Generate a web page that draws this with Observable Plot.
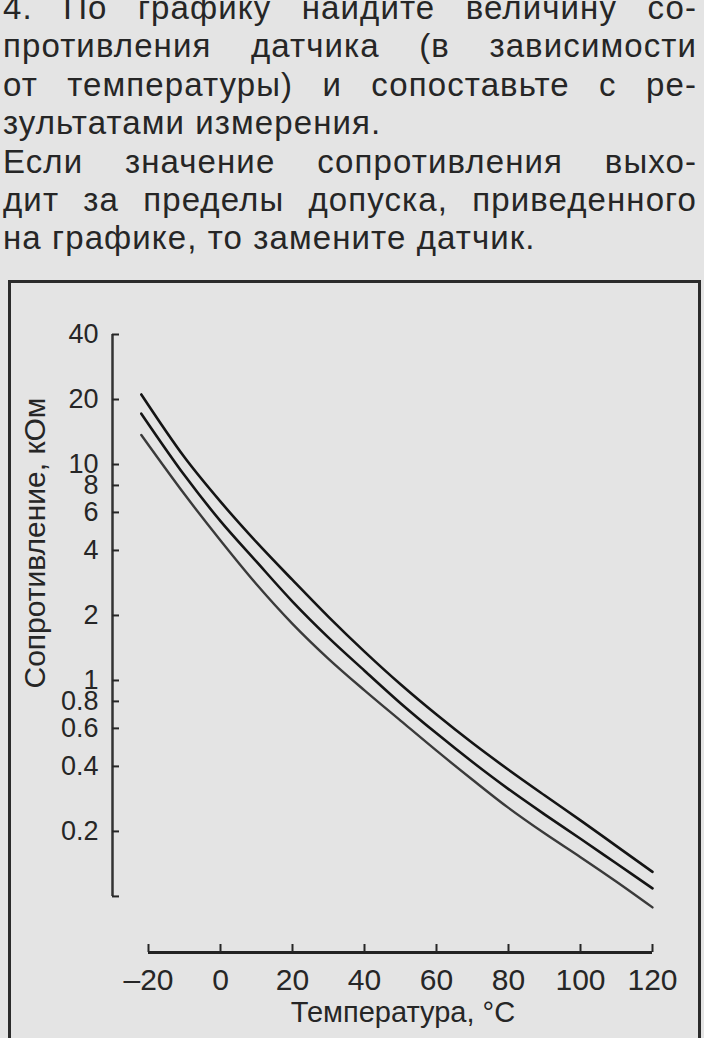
<!DOCTYPE html>
<html>
<head>
<meta charset="utf-8">
<script src="https://cdn.jsdelivr.net/npm/d3@7"></script>
<script src="https://cdn.jsdelivr.net/npm/@observablehq/plot@0.6"></script>
<style>
  body {
    margin: 0;
    width: 704px;
    height: 1038px;
    overflow: hidden;
    position: relative;
    background: #e4e4e4;
    color: #262626;
    font-family: "Liberation Sans", Arial, sans-serif;
  }
  #text {
    position: absolute;
    left: 3px;
    top: -11px;
    width: 694px;
    font-size: 33px;
    line-height: 38.4px;
    letter-spacing: 1.1px;
  }
  #text div { text-align: justify; text-align-last: justify; }
  #text div.last { text-align-last: left; }
  #box {
    position: absolute;
    left: 8px;
    top: 280px;
    width: 687px;
    height: 800px;
    border: 3px solid #2b2b2b;
    border-bottom: none;
  }
  #chart { position: absolute; left: 0; top: 281px; }
  #ylabel {
    position: absolute;
    left: 35px;
    top: 543px;
    transform: translate(-50%, -50%) rotate(-90deg);
    white-space: nowrap;
    font-size: 30px;
  }
  #xlabel {
    position: absolute;
    left: 403px;
    top: 1012px;
    transform: translate(-50%, -50%);
    white-space: nowrap;
    font-size: 29px;
  }
</style>
</head>
<body>
<div id="text">
  <div>4. По графику найдите величину со-</div>
  <div>противления датчика (в зависимости</div>
  <div>от температуры) и сопоставьте с ре-</div>
  <div class="last">зультатами измерения.</div>
  <div>Если значение сопротивления выхо-</div>
  <div>дит за пределы допуска, приведенного</div>
  <div class="last">на графике, то замените датчик.</div>
</div>
<div id="box"></div>
<div id="chart"></div>
<div id="ylabel">Сопротивление, кОм</div>
<div id="xlabel">Температура, °С</div>
<script>
// температура, °C
const temps = [-22, -10, 0, 10, 20, 30, 40, 50, 60, 70, 80, 90, 100, 110, 120];
// сопротивление датчика, кОм: верхний допуск, номинал, нижний допуск
const upper = [21.1, 10.8, 6.73, 4.37, 2.92, 1.97, 1.36, 0.96, 0.695, 0.513, 0.386, 0.294, 0.225, 0.171, 0.130];
const nominal = [17.2, 8.91, 5.47, 3.55, 2.32, 1.58, 1.11, 0.785, 0.569, 0.419, 0.314, 0.240, 0.185, 0.142, 0.109];
const lower = [13.7, 7.28, 4.45, 2.79, 1.83, 1.26, 0.90, 0.652, 0.473, 0.347, 0.257, 0.196, 0.152, 0.117, 0.089];

const xTicks = [-20, 0, 20, 40, 60, 80, 100, 120];
const yTicks = [0.1, 0.2, 0.4, 0.6, 0.8, 1, 2, 4, 6, 8, 10, 20, 40];
const yLabels = yTicks.filter((d) => d !== 0.1);

const rows = (vals) => temps.map((t, i) => ({t, r: vals[i]}));

let chart = Plot.plot({
  width: 704,
  height: 757,
  marginTop: 53,
  marginBottom: 86,
  marginLeft: 112,
  marginRight: 4,
  x: {domain: [-30, 120], range: [112, 652]},
  y: {type: "log", domain: [0.055, 40]},
  style: {
    background: "transparent",
    color: "#262626",
    "font-family": "Liberation Sans, Arial, sans-serif",
  },
  marks: [
    Plot.ruleX([-30], {y1: 0.1, y2: 40, stroke: "#333", strokeWidth: 2.5}),
    Plot.ruleY([0.055], {x1: -20, x2: 120, stroke: "#222", strokeWidth: 3}),
    // y ticks point into the plot; labels drawn separately so none are hidden
    Plot.axisY({
      ticks: yTicks,
      tickFormat: () => "",
      tickSize: -7,
      strokeWidth: 2,
      label: null,
    }),
    Plot.text(yLabels, {
      y: (d) => d,
      text: (d) => String(d),
      frameAnchor: "left",
      textAnchor: "end",
      dx: -14,
      fontSize: 27,
      fill: "#262626",
    }),
    Plot.axisX({
      ticks: xTicks,
      tickFormat: (d) => (d < 0 ? "–" + Math.abs(d) : String(d)),
      tickSize: -8,
      tickPadding: 24,
      strokeWidth: 2,
      fontSize: 30,
      label: null,
    }),
    Plot.line(rows(upper), {x: "t", y: "r", stroke: "#141414", strokeWidth: 2.6, curve: "catmull-rom"}),
    Plot.line(rows(nominal), {x: "t", y: "r", stroke: "#141414", strokeWidth: 2.6, curve: "catmull-rom"}),
    Plot.line(rows(lower), {x: "t", y: "r", stroke: "#3a3a3a", strokeWidth: 2.4, curve: "catmull-rom"}),
  ],
});

d3.select("#chart").append(() => chart);
</script>
</body>
</html>
